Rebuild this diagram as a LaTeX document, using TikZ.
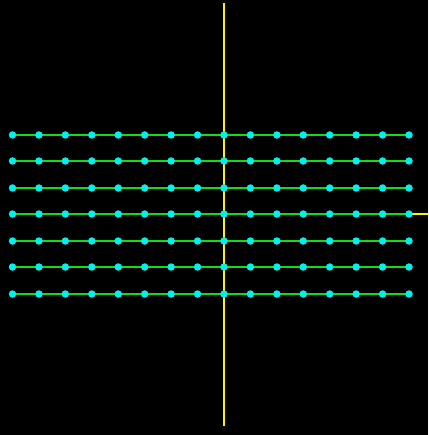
\documentclass[tikz,border=0pt]{standalone}
\definecolor{gline}{RGB}{20,220,20}
\definecolor{dotc}{RGB}{0,240,240}
\definecolor{yline}{RGB}{255,240,0}
\begin{document}
\begin{tikzpicture}[x=1pt,y=-1pt,
  dotnode/.style={circle,fill=dotc,inner sep=0pt,minimum size=7.5pt},
  gridline/.style={draw=gline,line width=2pt},
  axisline/.style={draw=yline,line width=2pt}]
\fill[black] (0,0) rectangle (428,435);
\useasboundingbox (0,0) rectangle (428,435);
\coordinate (vtop) at (224,3.5);
\coordinate (vbot) at (224,425.5);
\coordinate (hend) at (428,214);
\draw[axisline] (vtop) -- (vbot);
\foreach \r/\y in {0/135,1/161,2/188,3/214,4/241,5/267,6/294}{
  \foreach \c in {0,...,15}{
    \coordinate (p\r-\c) at ({12.5+\c*26.4333},\y);
  }
  \draw[gridline] (p\r-0) -- (p\r-15);
}
\draw[axisline] (p3-15) -- (hend);
\foreach \r in {0,...,6}{
  \foreach \c in {0,...,15}{
    \node[dotnode] (d\r-\c) at (p\r-\c) {};
  }
}
\end{tikzpicture}
\end{document}
